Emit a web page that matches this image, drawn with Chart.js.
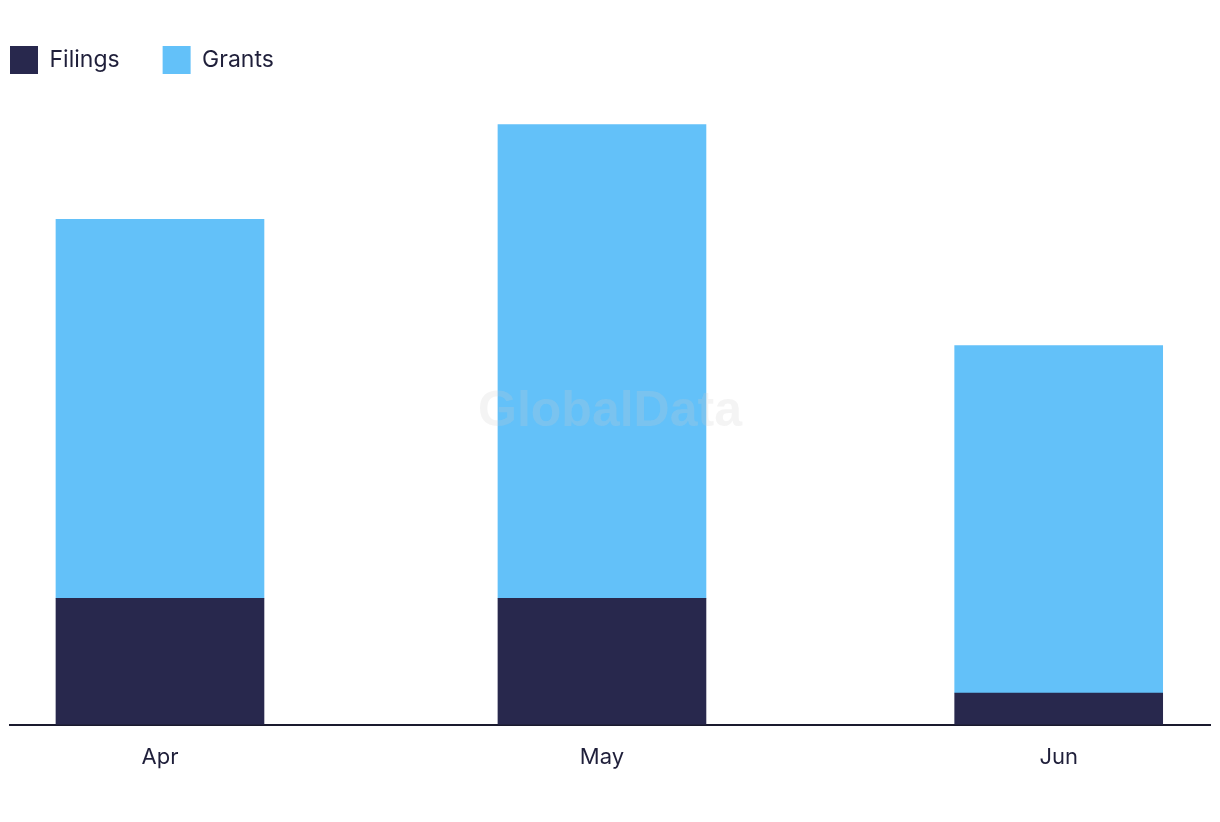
<!DOCTYPE html>
<html>
<head>
<meta charset="utf-8">
<script src="https://cdn.jsdelivr.net/npm/chart.js@4.4.0/dist/chart.umd.min.js"></script>
<style>
  html, body { margin: 0; padding: 0; background: #ffffff; }
  #wrap { width: 1220px; height: 822px; position: relative; }
</style>
</head>
<body>
<div id="wrap"><canvas id="c"></canvas></div>
<script>
// Data
const categories = ['Apr', 'May', 'Jun'];
const dayOffsets = [0, 30, 61];   // days since 1 Apr (time-like spacing)
const filings = [4, 4, 1];
const grants = [12, 15, 11];

const LEGEND_PAD = 43;

const watermark = {
  id: 'watermark',
  afterDatasetsDraw(chart) {
    const ctx = chart.ctx;
    const a = chart.chartArea;
    ctx.save();
    ctx.font = 'bold 50px "Liberation Sans", Arial, sans-serif';
    ctx.fillStyle = 'rgba(205,205,205,0.22)';
    ctx.textAlign = 'center';
    ctx.textBaseline = 'middle';
    ctx.fillText('GlobalData', (a.left + a.right) / 2, 412);
    ctx.restore();
  }
};

// place legend flush with the left edge of the plot
const legendShift = {
  id: 'legendShift',
  afterLayout(chart) {
    const lg = chart.legend;
    if (lg) {
      lg.left = 10 - LEGEND_PAD;
      lg.top = 46 - LEGEND_PAD;
    }
  }
};

new Chart(document.getElementById('c'), {
  type: 'bar',
  data: {
    datasets: [
      {
        label: 'Filings',
        data: dayOffsets.map((d, i) => ({ x: d, y: filings[i] })),
        backgroundColor: '#28284d',
        barThickness: 208
      },
      {
        label: 'Grants',
        data: dayOffsets.map((d, i) => ({ x: d, y: grants[i] })),
        backgroundColor: '#63c1f9',
        barThickness: 208
      }
    ]
  },
  options: {
    responsive: true,
    maintainAspectRatio: false,
    animation: false,
    layout: { padding: { left: 10, right: 10, top: 12, bottom: 31 } },
    plugins: {
      tooltip: { enabled: false },
      legend: {
        display: true,
        position: 'top',
        align: 'start',
        labels: {
          boxWidth: 28,
          boxHeight: 28,
          padding: LEGEND_PAD,
          color: '#1f1f3a',
          font: { family: 'Inter, "Open Sans", sans-serif', size: 23 }
        }
      }
    },
    scales: {
      x: {
        type: 'linear',
        stacked: true,
        offset: false,
        min: -10.18,
        max: 71.27,
        grid: { display: false, drawTicks: false },
        border: { display: true, color: '#1a1a2e', width: 2 },
        afterBuildTicks(scale) {
          scale.ticks = dayOffsets.map(v => ({ value: v }));
        },
        ticks: {
          autoSkip: false,
          maxRotation: 0,
          padding: 20,
          color: '#1f1f3a',
          font: { family: 'Inter, "Open Sans", sans-serif', size: 22 },
          callback(value) {
            const i = dayOffsets.indexOf(value);
            return i >= 0 ? categories[i] : '';
          }
        }
      },
      y: {
        stacked: true,
        display: false,
        min: 0,
        max: 20
      }
    }
  },
  plugins: [watermark, legendShift]
});
</script>
</body>
</html>
